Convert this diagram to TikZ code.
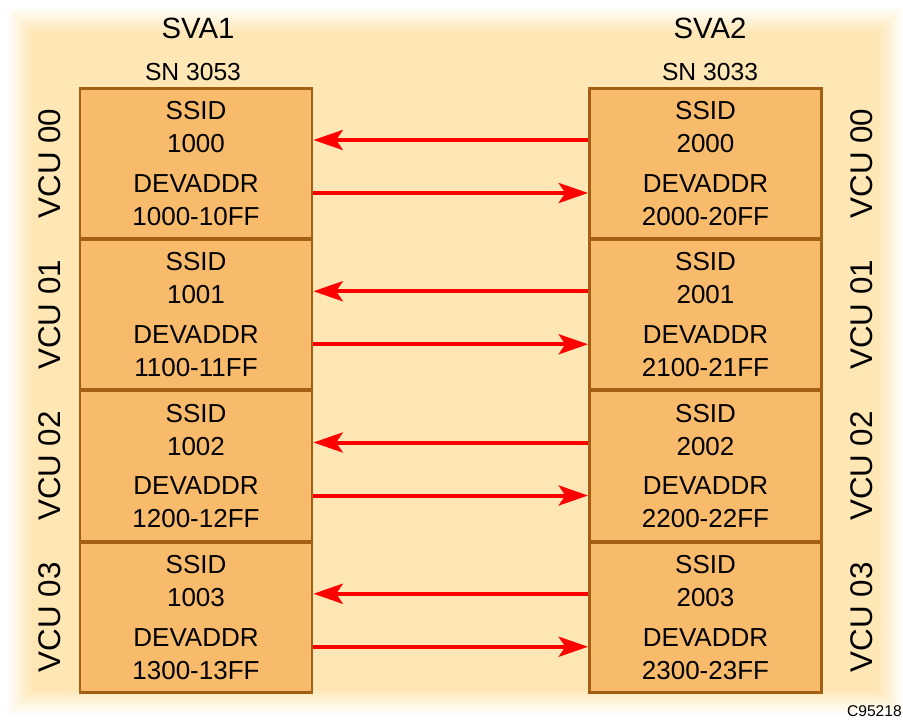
\documentclass[tikz,border=0pt]{standalone}
\usepackage{fontspec}
\setmainfont{Liberation Sans}
\usetikzlibrary{arrows.meta, calc}
\definecolor{panelcream}{HTML}{FFE7B5}
\definecolor{vcufill}{HTML}{F8BB6B}
\definecolor{vcuedge}{HTML}{A35F14}

\begin{document}
\begin{tikzpicture}[x=0.75pt, y=-0.75pt,
    vcu/.style={draw=vcuedge, line width=2.2pt, fill=vcufill, minimum width=174pt, minimum height=112.5pt, align=center, inner sep=0pt, font=\fontsize{19.5}{24.75}\selectfont},
    vcutag/.style={rotate=90, font=\fontsize{23.5}{28}\selectfont},
    sva/.style={font=\fontsize{22}{26}\selectfont},
    serial/.style={font=\fontsize{18.5}{22}\selectfont},
    link/.style={-{Stealth[length=22pt, width=15pt, inset=5pt]}, line width=3pt, red},
]
    \useasboundingbox (0,0) rectangle (903,723);
    % Fundo
    \fill[white] (0,0) rectangle (903,723);
    \foreach \i in {0,...,12} {
        \pgfmathtruncatemacro{\p}{(\i+1)*100/13}
        \fill[panelcream!\p!white] ({8+2*\i},{8+2*\i}) rectangle ({903-2*\i},{714-2*\i});
    }

    % Titulos
    \node[sva] (sva1) at (198,28) {SVA1};
    \node[sva] (sva2) at (710,28) {SVA2};
    \node[serial] (sn1) at (193,72) {SN 3053};
    \node[serial] (sn2) at (710,72) {SN 3033};

    % VCUs e ligacoes
    \foreach \k in {0,...,3} {
        \node[vcu] (l\k) at (196,{163.5+151.25*\k}) {SSID\\100\k\\[5pt]DEVADDR\\1\k00-1\k FF};
        \node[vcu] (r\k) at (705.5,{163.5+151.25*\k}) {SSID\\200\k\\[5pt]DEVADDR\\2\k00-2\k FF};
        \node[vcutag] (tl\k) at (50,{163.5+151.25*\k}) {VCU 0\k};
        \node[vcutag] (tr\k) at (862,{163.5+151.25*\k}) {VCU 0\k};
        \draw[link] ($(r\k.west)+(0,-23.5)$) -- ($(l\k.east)+(0,-23.5)$);
        \draw[link] ($(l\k.east)+(0,29.5)$) -- ($(r\k.west)+(0,29.5)$);
    }

    \node[font=\fontsize{11.7}{14}\selectfont, anchor=east, inner sep=0pt] (fig) at (902,711) {C95218};
\end{tikzpicture}
\end{document}
